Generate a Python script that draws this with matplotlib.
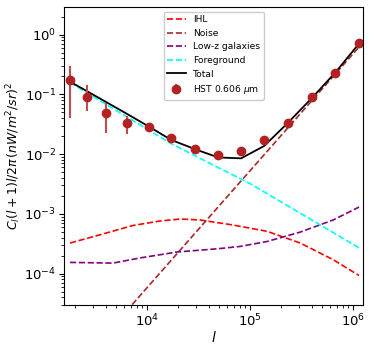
import numpy as np
import matplotlib
matplotlib.use("Agg")
import matplotlib.pyplot as plt

# HST 0.606 um data points
ell_data = [1787, 2612, 4000, 6400, 10450, 17100, 29200, 48900, 81800,
            136800, 234000, 400000, 668000, 1140000]
cl_data = [0.171, 0.091, 0.048, 0.033, 0.028, 0.0187, 0.0124, 0.0098, 0.0114,
           0.0171, 0.0329, 0.090, 0.230, 0.716]
err_lo = [0.130, 0.038, 0.025, 0.0114, 0.0044, 0.0020, 0.0012, 0.0012, 0.0018,
          0.0023, 0.0030, 0.006, 0.012, 0.03]
err_hi = [0.130, 0.054, 0.025, 0.0105, 0.0036, 0.0020, 0.0012, 0.0012, 0.0019,
          0.0031, 0.0030, 0.006, 0.012, 0.03]

# total model, at the data multipoles
cl_total = [0.163, 0.113, 0.0745, 0.047, 0.0288, 0.0173, 0.0121, 0.0088, 0.0085,
            0.0137, 0.0337, 0.088, 0.23, 0.708]

# model components
ell_ihl = [1787, 3500, 7310, 13370, 20900, 32700, 68500, 146000, 306000, 640000, 1140000]
cl_ihl = [3.25e-4, 4.47e-4, 6.4e-4, 7.6e-4, 8.2e-4, 7.9e-4, 6.5e-4, 5.1e-4, 3.25e-4, 1.71e-4, 9.3e-5]

ell_lowz = [1787, 4680, 8550, 19550, 47900, 80000, 146000, 306000, 640000, 1140000]
cl_lowz = [1.54e-4, 1.5e-4, 1.83e-4, 2.3e-4, 2.6e-4, 2.85e-4, 3.45e-4, 4.95e-4, 7.9e-4, 1.3e-3]

ell_fg = [1787, 17100, 100000, 1140000]
cl_fg = [0.158, 0.0150, 3.2e-3, 2.7e-4]

ell_noise = [1787, 1140000]
cl_noise = [2.0e-6, 0.62]

fig = plt.figure(figsize=(3.74, 3.5), dpi=100)
ax = fig.add_axes([0.171, 0.129, 0.8, 0.851])

ax.plot(ell_ihl, cl_ihl, ls="--", color="red", lw=1.2, label="IHL")
ax.plot(ell_noise, cl_noise, ls="--", color="brown", lw=1.2, label="Noise")
ax.plot(ell_lowz, cl_lowz, ls="--", color="purple", lw=1.2, label="Low-z galaxies")
ax.plot(ell_fg, cl_fg, ls="--", color="cyan", lw=1.2, label="Foreground")
ax.plot(ell_data, cl_total, color="black", lw=1.3, label="Total")
ax.errorbar(ell_data, cl_data, yerr=[err_lo, err_hi], fmt="o", color="firebrick",
            ecolor=(0.75, 0.3, 0.3), elinewidth=1.5, markersize=6,
            label=r"HST 0.606 $\mu$m")

ax.set_xscale("log")
ax.set_yscale("log")
ax.set_xlim(1560, 1.25e6)
ax.set_ylim(3e-5, 2.9)
ax.tick_params(labelsize=9.5, pad=2)
ax.set_xlabel(r"$l$", fontsize=10, labelpad=1)
ax.set_ylabel(r"$C_l(l+1)l/2\pi\,(nW/m^2/sr)^2$", fontsize=9, labelpad=1)
ax.legend(loc="upper center", fontsize=6.6, framealpha=1.0)

fig.savefig("out.png", dpi=100)
